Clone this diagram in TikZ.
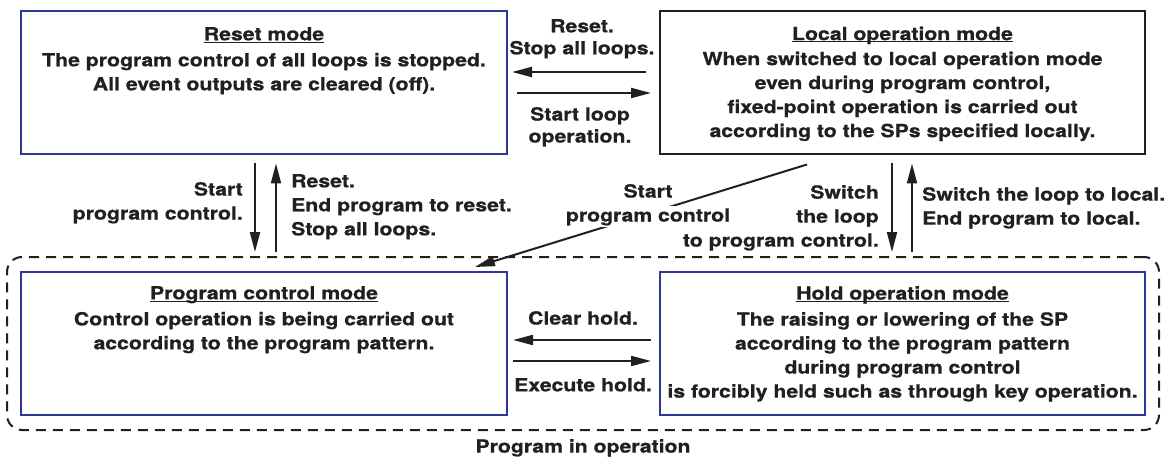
\documentclass[tikz,border=0pt]{standalone}
\usepackage{fontspec}
\setmainfont{TeX Gyre Heros}[FakeStretch=1.18, BoldFeatures={FakeBold=0.8}]
\usetikzlibrary{arrows.meta,positioning,fit,calc}
\definecolor{modeblue}{RGB}{46,56,150}
\definecolor{ink}{RGB}{35,31,32}
\tikzset{
  modebox/.style={draw=modeblue, line width=2pt, minimum width=486pt, minimum height=143pt, inner sep=0pt},
  localbox/.style={modebox, draw=ink},
  modetext/.style={anchor=north, align=center, inner sep=0pt, text=ink, font=\fontsize{18}{24}\selectfont\bfseries},
  lblh/.style={anchor=north, align=center, inner sep=0pt, text=ink, font=\fontsize{18}{22}\selectfont\bfseries},
  lblv/.style={inner sep=0pt, text=ink, font=\fontsize{18}{24}\selectfont\bfseries},
  flow/.style={-{Triangle[length=20pt,width=10pt]}, line width=2pt, draw=ink},
  groupbox/.style={draw=ink, line width=2pt, dash pattern=on 10pt off 7pt, rounded corners=15pt, inner sep=0pt}
}
\newcommand{\modetitle}[1]{\underline{\raisebox{0pt}[\height][0pt]{#1}}}
\begin{document}
\begin{tikzpicture}[x=1pt,y=-1pt]
\useasboundingbox (0,0) rectangle (1172,457);
% Top row
\node[modebox] (reset) at (264,83) {};
\node[localbox, minimum width=485pt] (local) at (902.5,83) {};
% Bottom row
\node[modebox] (prog) at (264,343.5) {};
\node[modebox, minimum width=485pt] (hold) at (902.5,343.5) {};
\node[groupbox, fit=(prog)(hold), inner xsep=13pt, inner ysep=14pt] (group) {};

% Box texts
\node[modetext] (resettxt) at ([yshift=-16.5pt]reset.north) {\modetitle{Reset mode}\\[2pt]
  The program control of all loops is stopped.\\ All event outputs are cleared (off).};
\node[modetext] (localtxt) at ([yshift=-16pt]local.north) {\modetitle{Local operation mode}\\[1pt]
  When switched to local operation mode\\ even during program control,\\
  fixed-point operation is carried out\\ according to the SPs specified locally.};
\node[modetext] (progtxt) at ([yshift=-15pt]prog.north) {\modetitle{Program control mode}\\[2pt]
  Control operation is being carried out\\ according to the program pattern.};
\node[modetext] (holdtxt) at ([yshift=-15pt]hold.north) {\modetitle{Hold operation mode}\\[2pt]
  The raising or lowering of the SP\\ according to the program pattern\\
  during program control\\ is forcibly held such as through key operation.};

% Connections
\draw[flow, shorten <=13pt, shorten >=4pt] ([yshift=11pt]local.west) -- ([yshift=11pt]reset.east);
\draw[flow, shorten <=9pt, shorten >=8pt] ([yshift=-10pt]reset.east) -- ([yshift=-10pt]local.west);
\draw[flow, shorten <=7.5pt, shorten >=19pt] ([xshift=-9pt]reset.south) -- ([xshift=-9pt]prog.north);
\draw[flow, shorten <=19pt, shorten >=8pt] ([xshift=12pt]prog.north) -- ([xshift=12pt]reset.south);
\draw[flow, shorten <=7.5pt, shorten >=19pt] ([xshift=-10.5pt]local.south) -- ([xshift=-10.5pt]hold.north);
\draw[flow, shorten <=19pt, shorten >=8pt] ([xshift=9.5pt]hold.north) -- ([xshift=9.5pt]local.south);
\draw[flow] ([xshift=-95.5pt,yshift=-9pt]local.south) -- ([xshift=211pt,yshift=4pt]prog.north);
\draw[flow, shorten <=8pt, shorten >=5pt] ([yshift=3.5pt]hold.west) -- ([yshift=3.5pt]prog.east);
\draw[flow, shorten <=5pt, shorten >=8pt] ([yshift=-17.5pt]prog.east) -- ([yshift=-17.5pt]hold.west);

% Labels
\node[lblh] (resetlbl) at (582,19) {Reset.\\ Stop all loops.};
\node[lblh] (looplbl) at (580,107) {Start loop\\ operation.};
\node[lblv, anchor=north east, align=right] (startlbl) at (243,182) {Start\\ program control.};
\node[lblv, anchor=north west, align=left] (endlbl) at (291,174) {Reset.\\ End program to reset.\\ Stop all loops.};
\node[lblv, anchor=north, align=center] (diaglbl) at (648,184) {Start\\ {\setlength{\fboxsep}{2pt}\colorbox{white}{program control}}};
\node[lblv, anchor=north east, align=right] (switchlbl) at (879,185) {Switch\\ the loop\\ to program control.};
\node[lblv, anchor=north west, align=left] (locallbl) at (922,187) {Switch the loop to local.\\ End program to local.};
\node[lblh] (clearlbl) at (583,311) {Clear hold.};
\node[lblh] (execlbl) at (583,378) {Execute hold.};
\node[lblh] (grouplbl) at (583,439) {Program in operation};
\end{tikzpicture}
\end{document}
